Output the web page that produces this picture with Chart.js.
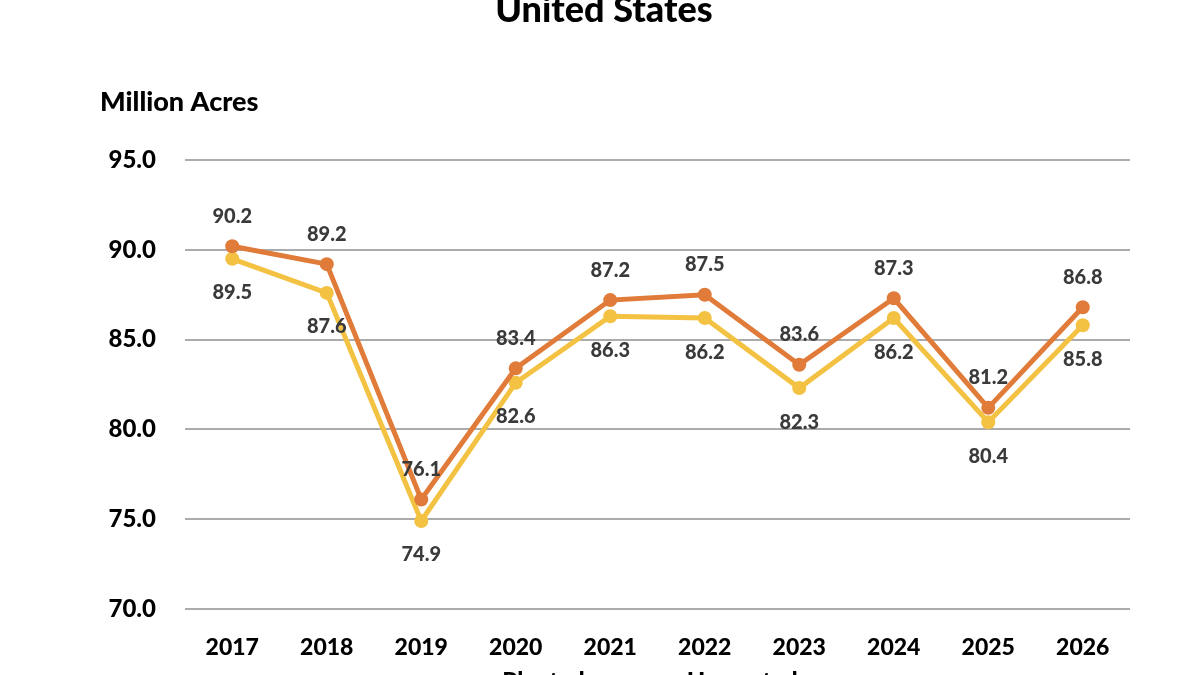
<!DOCTYPE html>
<html>
<head>
<meta charset="utf-8">
<script src="https://cdn.jsdelivr.net/npm/chart.js@4/dist/chart.umd.min.js"></script>
<style>
  html, body { margin: 0; padding: 0; background: #fff; overflow: hidden; }
  #wrap { position: relative; width: 1200px; height: 675px; overflow: hidden; }
  #acres { position: absolute; left: 0; top: -11px; }
</style>
</head>
<body>
<div id="wrap"><canvas id="acres" width="1200" height="715"></canvas></div>
<script>
// values
const years = ['2017', '2018', '2019', '2020', '2021', '2022', '2023', '2024', '2025', '2026'];
const planted = [90.2, 89.2, 76.1, 83.4, 87.2, 87.5, 83.6, 87.3, 81.2, 86.8];
const harvested = [89.5, 87.6, 74.9, 82.6, 86.3, 86.2, 82.3, 86.2, 80.4, 85.8];
const yTicks = [70, 75, 80, 85, 90, 95];

const FONT = 'Lato';
const orange = '#E07B39';
const yellow = '#F4C242';

// value labels: planted above the point, harvested below
const valueLabels = {
  id: 'valueLabels',
  afterDatasetsDraw(chart) {
    const ctx = chart.ctx;
    ctx.save();
    ctx.font = '900 20px ' + FONT;
    ctx.fillStyle = '#3A3A3A';
    ctx.textAlign = 'center';
    ctx.textBaseline = 'middle';
    chart.data.datasets.forEach((ds, i) => {
      const shift = i === 0 ? -30 : 34;
      chart.getDatasetMeta(i).data.forEach((pt, j) => {
        ctx.fillText(ds.data[j].toFixed(1), pt.x, pt.y + shift);
      });
    });
    ctx.restore();
  }
};

// unit caption above the y axis
const unitLabel = {
  id: 'unitLabel',
  afterDraw(chart) {
    const ctx = chart.ctx;
    const a = chart.chartArea;
    ctx.save();
    ctx.font = '900 27px ' + FONT;
    ctx.fillStyle = '#000';
    ctx.textAlign = 'left';
    ctx.textBaseline = 'alphabetic';
    ctx.fillText('Million Acres', a.left - 85, a.top - 49);
    ctx.restore();
  }
};

const lineConfig = {
  type: 'line',
  data: {
    labels: years,
    datasets: [
      {
        label: 'Planted',
        data: planted,
        borderColor: orange,
        backgroundColor: orange,
        borderWidth: 5,
        pointRadius: 7,
        pointBackgroundColor: orange,
        pointBorderWidth: 0,
        tension: 0,
      },
      {
        label: 'Harvested',
        data: harvested,
        borderColor: yellow,
        backgroundColor: yellow,
        borderWidth: 5,
        pointRadius: 7,
        pointBackgroundColor: yellow,
        pointBorderWidth: 0,
        tension: 0,
      },
    ],
  },
  options: {
    responsive: false,
    animation: false,
    devicePixelRatio: 1,
    layout: { padding: { left: 78, right: 70, top: 0, bottom: 0 } },
    plugins: {
      title: {
        display: true,
        text: 'United States',
        color: '#000',
        font: { family: FONT, size: 36, weight: '900' },
        padding: { top: 0, bottom: 127.8 },
      },
      legend: {
        position: 'bottom',
        labels: {
          color: '#000',
          font: { family: FONT, size: 24, weight: '900' },
          usePointStyle: true,
          pointStyle: 'line',
          pointStyleWidth: 80,
          padding: 10,
        },
      },
      tooltip: { enabled: false },
    },
    scales: {
      x: {
        offset: true,
        grid: { display: false, drawTicks: false },
        border: { display: false },
        ticks: {
          color: '#000',
          padding: 25,
          font: { family: FONT, size: 23, weight: '900' },
        },
        afterFit(scale) { scale.height = 51; },
      },
      y: {
        min: 70,
        max: 95,
        afterBuildTicks(scale) { scale.ticks = yTicks.map(v => ({ value: v })); },
        grid: { color: '#ABABAB', lineWidth: 2, drawTicks: false },
        border: { display: false },
        ticks: {
          color: '#000',
          padding: 29,
          font: { family: FONT, size: 24, weight: '900' },
          callback: (v) => Number(v).toFixed(1),
        },
        afterFit(scale) { scale.width = 107; },
      },
    },
  },
  plugins: [valueLabels, unitLabel],
};

const acresCtx = document.getElementById('acres');
window.acresChart = new Chart(acresCtx, lineConfig);
</script>
</body>
</html>
